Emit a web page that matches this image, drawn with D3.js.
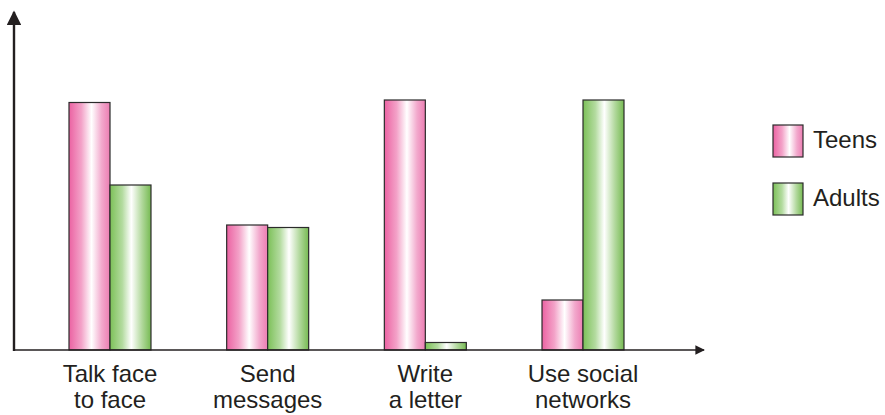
<!DOCTYPE html>
<html>
<head>
<meta charset="utf-8">
<script src="https://cdn.jsdelivr.net/npm/d3@7"></script>
<style>
  body { margin: 0; background: #fff; }
  svg text { font-family: "Liberation Sans", Arial, sans-serif; fill: #231f20; }
</style>
</head>
<body>
<svg id="chart" width="885" height="415"></svg>
<script>
// data (arbitrary units, no y ticks shown)
var categories = ["Talk face|to face", "Send|messages", "Write|a letter", "Use social|networks"]
var seriesNames = ["Teens", "Adults"]
var teens = [99, 50, 100, 20]
var adults = [66, 49, 3, 100]

var svg = d3.select("#chart")
var baseY = 350
var axisX = 14

// gradients for the shiny bars
var defs = svg.append("defs")
function grad(id, stops) {
    var g = defs.append("linearGradient").attr("id", id)
        .attr("x1", "0%").attr("x2", "100%").attr("y1", "0%").attr("y2", "0%")
    stops.forEach(function(s) {
        g.append("stop").attr("offset", s[0]).attr("stop-color", s[1])
    })
}
grad("pinkGrad", [["0%", "#eb62a2"], ["30%", "#f3a2c8"], ["55%", "#ffffff"], ["80%", "#f2a8cc"], ["100%", "#ec7db2"]])
grad("greenGrad", [["0%", "#7cc058"], ["30%", "#b3db9f"], ["52%", "#ffffff"], ["78%", "#b1d89c"], ["100%", "#76ba52"]])

var fills = {"Teens": "url(#pinkGrad)", "Adults": "url(#greenGrad)"}

var x = d3.scaleBand()
    .domain(categories)
    .range([69, 624])
    .paddingInner(0.48)
    .paddingOuter(0)

var xSub = d3.scaleBand()
    .domain(seriesNames)
    .range([0, x.bandwidth()])

var y = d3.scaleLinear()
    .domain([0, 100])
    .range([baseY, 100])

var rows = categories.map(function(c, i) {
    return {cat: c, values: [{key: "Teens", v: teens[i]}, {key: "Adults", v: adults[i]}]}
})

// bars
svg.append("g")
    .selectAll("g")
    .data(rows)
    .enter()
    .append("g")
    .attr("transform", function(d) { return "translate(" + x(d.cat) + ",0)" })
    .selectAll("rect")
    .data(function(d) { return d.values })
    .enter()
    .append("rect")
    .attr("x", function(d) { return xSub(d.key) })
    .attr("y", function(d) { return y(d.v) })
    .attr("width", xSub.bandwidth())
    .attr("height", function(d) { return baseY - y(d.v) })
    .attr("fill", function(d) { return fills[d.key] })
    .attr("stroke", "#2b2b2b")
    .attr("stroke-width", 1.2)

// axes with arrow heads
defs.append("marker")
    .attr("id", "arrow")
    .attr("viewBox", "0 0 10 10")
    .attr("refX", 9).attr("refY", 5)
    .attr("markerWidth", 7).attr("markerHeight", 6)
    .attr("markerUnits", "strokeWidth")
    .attr("orient", "auto")
    .append("path")
    .attr("d", "M0,0 L10,5 L0,10 Z")
    .attr("fill", "#231f20")

svg.append("line")
    .attr("x1", axisX).attr("y1", baseY + 1)
    .attr("x2", axisX).attr("y2", 12)
    .attr("stroke", "#231f20").attr("stroke-width", 2.4)
    .attr("marker-end", "url(#arrow)")

svg.append("line")
    .attr("x1", axisX - 1).attr("y1", baseY)
    .attr("x2", 704).attr("y2", baseY)
    .attr("stroke", "#231f20").attr("stroke-width", 1.6)
    .attr("marker-end", "url(#arrow)")

// category labels (two lines each)
var labels = svg.append("g")
    .selectAll("text")
    .data(categories)
    .enter()
    .append("text")
    .attr("text-anchor", "middle")
    .attr("font-size", 24)
    .attr("x", function(d) { return x(d) + x.bandwidth() / 2 })
    .attr("y", 382)

labels.selectAll("tspan")
    .data(function(d) { return d.split("|") })
    .enter()
    .append("tspan")
    .attr("x", function() { var p = this.parentNode; return p.getAttribute("x") })
    .attr("dy", function(d, i) { return i == 0 ? 0 : 26 })
    .text(function(d) { return d })

// legend
var legend = svg.append("g")
    .selectAll("g")
    .data(seriesNames)
    .enter()
    .append("g")
    .attr("transform", function(d, i) { return "translate(773," + (125 + i * 58) + ")" })

legend.append("rect")
    .attr("width", 30)
    .attr("height", 32)
    .attr("fill", function(d) { return fills[d] })
    .attr("stroke", "#2b2b2b")
    .attr("stroke-width", 1.2)

legend.append("text")
    .attr("x", 40)
    .attr("y", 23)
    .attr("font-size", 24)
    .text(function(d) { return d })
</script>
</body>
</html>
